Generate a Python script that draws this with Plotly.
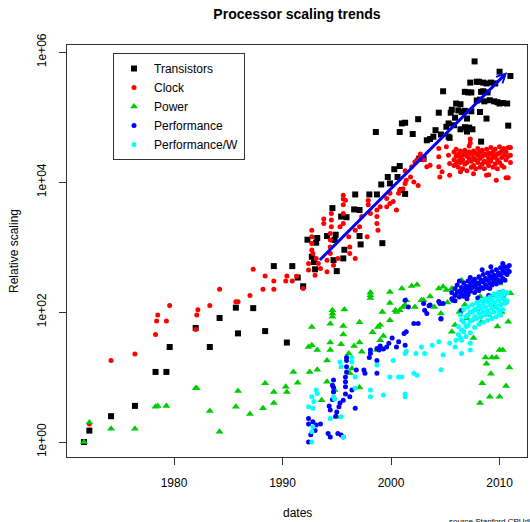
import plotly.graph_objects as go
import numpy as np

# ---- data (year, relative scaling) ----
transistors = [
    (1971.7, 1.0), (1972.2, 1.5), (1974.2, 2.5), (1976.4, 3.6), (1978.3, 12), (1979.3, 12), (1979.6, 29),
    (1982.0, 57), (1983.3, 29), (1984.2, 81), (1985.7, 117), (1985.9, 47), (1987.3, 115), (1988.4, 51),
    (1989.2, 510), (1990.4, 34),
    (1990.9, 510), (1991.4, 340), (1991.9, 250), (1992.3, 1300), (1992.7, 710), (1992.9, 590), (1993.0, 455),
    (1993.1, 1170), (1993.2, 1380), (1994.1, 1480), (1994.7, 630), (1994.8, 1290), (1994.9, 1550), (1995.0, 427),
    (1995.6, 670), (1995.7, 910), (1994.6, 3980), (1995.4, 2950), (1995.9, 2880), (1996.6, 3800), (1997.1, 3720),
    (1997.1, 1480), (1997.2, 1100), (1999.2, 1150),
    (1996.7, 6460), (1998.0, 6460), (1998.7, 6460), (1999.1, 9200), (1999.9, 9550), (1999.7, 1.2e4), (2000.6, 1.2e4),
    (2000.3, 1.58e4), (2000.8, 1.77e4), (2001.0, 7560), (2001.3, 6580), (2002.6, 2.3e4), (2003.0, 2.3e4),
    (2003.3, 4.4e4), (2003.6, 4.6e4), (2004.6, 5.4e4), (2005.4, 4.8e4), (2005.1, 7.1e4), (2006.4, 6.5e4),
    (2007.2, 6.9e4), (2007.5, 6.5e4), (2008.3, 4.2e4), (2010.8, 7.4e4), (1998.6, 5.9e4), (2000.8, 5.9e4),
    (2002.0, 5.5e4), (2001.0, 8.0e4), (2001.3, 8.2e4), (2002.5, 9.3e4), (2004.4, 1.17e5), (2005.5, 1.17e5),
    (2005.9, 9.8e4), (2007.0, 9.5e4), (2008.8, 9.5e4), (2006.5, 1.2e5), (2007.4, 1.23e5), (2008.2, 1.2e5),
    (2006.0, 1.62e5), (2006.4, 1.58e5), (2008.2, 1.86e5), (2009.1, 1.82e5), (2010.0, 1.62e5), (2010.7, 1.62e5),
    (2004.8, 2.5e5), (2006.8, 2.45e5), (2007.4, 2.4e5), (2008.5, 2.5e5), (2007.3, 3.4e5), (2007.9, 3.5e5),
    (2008.8, 3.3e5), (2007.7, 7.2e5), (2010.0, 5.0e5), (2011.0, 4.3e5),
    (2008.1, 3.5e5), (2008.5, 3.4e5), (2009.2, 3.4e5), (2009.6, 3.3e5), (2007.1, 2.4e5), (2008.3, 2.45e5),
    (2008.9, 2.4e5), (2007.9, 1.8e5), (2008.6, 1.75e5), (2009.5, 1.75e5), (2009.8, 1.7e5), (2010.3, 1.65e5),
    (2006.2, 1.27e5), (2006.8, 1.25e5), (2005.6, 1.3e5), (2005.3, 8.0e4), (2005.8, 7.5e4), (2006.8, 7.0e4),
    (2007.0, 6.0e4), (2003.9, 5.0e4), (2004.1, 6.3e4), (2005.3, 5.0e4),
]

clock = [
    (1972.2, 1.9), (1974.2, 18), (1976.4, 22.6), (1978.3, 45), (1978.4, 73), (1978.5, 90), (1979.3, 73),
    (1979.6, 126), (1982.0, 54), (1982.1, 90), (1982.2, 109), (1983.3, 126), (1984.2, 225), (1985.7, 144),
    (1985.9, 144), (1987.0, 180), (1987.3, 455), (1988.2, 225), (1988.4, 360), (1989.2, 300), (1989.2, 225),
    (1990.3, 300), (1990.4, 360),
    (1990.9, 300), (1991.3, 355), (1991.9, 230), (1992.4, 445), (1992.4, 560), (1993.0, 370), (1993.5, 470),
    (1992.7, 1820), (1992.7, 1440), (1992.7, 1140), (1992.7, 900), (1992.8, 800), (1993.1, 670), (1993.3, 560),
    (1994.1, 630), (1994.1, 417), (1994.4, 800), (1994.4, 1000), (1994.4, 1290), (1994.4, 1620), (1994.5, 2050),
    (1994.5, 2620), (1994.5, 3300), (1993.8, 2300), (1993.8, 2700), (1995.3, 2050), (1995.6, 2300),
    (1995.6, 3300), (1995.6, 4470), (1995.8, 5250), (1996.1, 1440), (1996.2, 1000), (1996.2, 800),
    (1996.7, 670), (1995.1, 670), (1994.7, 525), (1996.7, 1820), (1997.1, 2050), (1997.8, 1440),
    (1997.3, 2950), (1998.1, 3300), (1998.7, 3720), (1998.7, 2950), (1998.7, 2300), (1998.8, 1820),
    (1999.6, 4170), (1999.9, 4680), (2000.5, 3720), (1995.6, 5500), (1995.6, 6300), (1997.9, 4500),
    (1997.9, 5200), (2000.7, 6760),
    (1999.0, 4170), (1999.6, 5620), (1999.9, 6760), (2000.2, 5010), (2000.8, 7590), (2001.1, 7940),
    (2001.3, 9550), (2001.4, 1.07e4), (2001.8, 1.2e4), (2002.1, 1.0e4), (2002.5, 8900), (2001.3, 1.5e4),
    (2001.9, 1.73e4), (2002.2, 2.04e4), (2002.7, 2.45e4), (2003.3, 1.73e4), (2003.6, 1.82e4), (2003.0, 2.2e4),
    (2004.4, 3.3e4), (2004.4, 2.45e4), (2004.4, 1.73e4), (2004.7, 1.44e4), (2004.5, 1.2e4), (2005.1, 3.5e4),
    (2005.3, 2.6e4), (2005.4, 1.94e4), (2005.4, 1.28e4), (2002.4, 2.2e4), (2002.7, 2.7e4),
    (2006.4, 1.44e4), (2007.6, 1.35e4), (2008.8, 1.28e4), (2009.7, 1.07e4), (2010.6, 1.17e4),
    (2010.8, 1.17e4), (2009.0, 1.3e4),
    (2005.8, 2.9e4), (2005.8, 2.2e4), (2005.8, 1.8e4), (2006.0, 3.2e4), (2006.0, 2.5e4), (2006.0, 1.9e4),
    (2006.2, 2.7e4), (2006.2, 2.1e4), (2006.2, 1.7e4), (2006.4, 3.0e4), (2006.4, 2.4e4), (2006.4, 2.0e4),
    (2006.6, 2.6e4), (2006.6, 2.2e4), (2006.6, 1.6e4), (2006.8, 3.1e4), (2006.8, 2.8e4), (2006.8, 1.9e4),
    (2007.0, 2.5e4), (2007.0, 2.0e4), (2007.0, 1.5e4), (2007.2, 3.6e4), (2007.2, 2.9e4), (2007.2, 2.3e4),
    (2007.3, 4.6e4), (2007.3, 4.0e4), (2007.4, 2.7e4), (2007.4, 2.1e4), (2007.4, 1.7e4), (2007.6, 3.0e4),
    (2007.6, 2.4e4), (2007.6, 1.8e4), (2007.8, 2.8e4), (2007.8, 2.2e4), (2007.8, 1.6e4), (2008.0, 3.3e4),
    (2008.0, 2.6e4), (2008.0, 2.0e4), (2008.2, 2.9e4), (2008.2, 2.3e4), (2008.2, 1.7e4), (2008.4, 3.1e4),
    (2008.4, 2.5e4), (2008.4, 1.9e4), (2008.6, 2.7e4), (2008.6, 2.1e4), (2008.6, 1.6e4), (2008.8, 3.2e4),
    (2008.8, 2.6e4), (2008.8, 2.0e4), (2009.0, 2.8e4), (2009.0, 2.3e4), (2009.0, 1.8e4), (2009.2, 3.4e4),
    (2009.2, 2.7e4), (2009.2, 2.1e4), (2009.4, 2.9e4), (2009.4, 2.4e4), (2009.4, 1.7e4), (2009.6, 3.2e4),
    (2009.6, 2.5e4), (2009.6, 1.9e4), (2009.8, 2.7e4), (2009.8, 2.2e4), (2009.8, 1.6e4), (2010.0, 3.5e4),
    (2010.0, 2.8e4), (2010.0, 2.0e4), (2010.2, 3.0e4), (2010.2, 2.4e4), (2010.2, 1.8e4), (2010.4, 3.3e4),
    (2010.4, 2.6e4), (2010.4, 1.7e4), (2010.6, 2.9e4), (2010.6, 2.2e4), (2010.8, 3.4e4), (2010.8, 2.5e4),
    (2011.0, 3.4e4), (2011.0, 2.6e4), (2011.0, 2.0e4),
]

power = [
    (1971.7, 1.0), (1972.2, 2.0), (1974.2, 1.6), (1976.4, 1.6), (1978.3, 3.5), (1978.5, 3.6), (1979.3, 3.6),
    (1982.0, 6.7), (1982.1, 6.7), (1983.3, 3.0), (1984.2, 1.44), (1985.7, 3.5), (1985.9, 6.1), (1987.0, 2.7),
    (1988.2, 3.3), (1988.4, 8.0), (1989.2, 4.0), (1989.2, 5.9), (1990.3, 7.1), (1990.4, 5.9),
    (1991.0, 12), (1991.4, 8.2), (1992.4, 29), (1992.7, 31), (1993.2, 26), (1992.5, 12), (1993.2, 13),
    (1992.7, 59), (1994.4, 66), (1994.6, 107), (1994.6, 95), (1994.6, 85), (1995.7, 110), (1995.6, 61),
    (1995.6, 45), (1997.1, 70), (1994.4, 34), (1995.4, 32), (1994.1, 18), (1994.4, 26), (1994.1, 8.5),
    (1993.6, 4.4), (1994.8, 6.3), (1996.1, 23), (1996.6, 30), (1997.1, 34), (1997.3, 24.5), (1996.2, 11.4),
    (1997.1, 6.9), (1998.3, 49), (1998.8, 59), (1999.2, 100), (1999.9, 138), (1999.0, 37), (1999.3, 43),
    (2000.5, 100), (2000.8, 107), (2001.3, 129), (2002.2, 120), (2002.8, 152), (1998.7, 26), (1996.4, 13.6),
    (1995.0, 2.45), (1999.0, 63), (1999.9, 75), (2000.4, 107), (2001.1, 120), (2003.0, 152),
    (1998.1, 182), (1998.1, 200), (1998.1, 165), (1999.9, 204), (2001.0, 230), (2001.9, 251), (2002.4, 263),
    (2001.4, 152), (2003.6, 174), (2004.4, 230), (2004.8, 245), (2005.1, 219), (2006.5, 310), (2007.3, 310),
    (2008.2, 330), (2009.4, 275), (2010.0, 275), (2011.0, 195), (2005.6, 230), (2008.2, 174), (2008.8, 152),
    (2009.4, 180), (2010.3, 174),
    (2004.0, 120), (2004.6, 95), (2005.2, 140), (2005.6, 50), (2005.9, 63), (2006.3, 100), (2006.8, 130),
    (2007.0, 80), (2007.6, 40), (2007.9, 110), (2008.3, 70), (2008.6, 150), (2009.0, 90), (2009.5, 120),
    (2009.8, 60), (2010.2, 100), (2010.5, 140), (2010.8, 71), (2010.0, 26), (2010.3, 26),
    (2008.7, 20), (2008.8, 16), (2009.3, 20), (2009.7, 20), (2009.2, 11.2), (2010.9, 14), (2008.4, 8),
    (2010.6, 7.3), (2009.1, 5), (2010.0, 5), (2008.2, 4.0),
]

performance = [
    (1992.4, 2.3), (1992.4, 1.9), (1992.4, 1.0), (1992.8, 2.05), (1993.1, 1.83), (1993.5, 1.9), (1994.2, 1.36),
    (1994.4, 1.2), (1995.1, 1.36), (1995.4, 1.28), (1995.6, 1.2), (1994.3, 3.6), (1994.4, 3.1), (1994.7, 6.9),
    (1994.7, 5.9), (1994.7, 9.0), (1995.2, 3.5), (1995.3, 4.0), (1995.6, 4.4), (1995.8, 7.1), (1995.8, 10),
    (1995.9, 14.4), (1995.9, 18), (1995.9, 20), (1996.2, 5), (1996.4, 6.3), (1996.7, 3.3), (1997.5, 12.8),
    (1997.6, 11.4), (1998.1, 23), (1998.1, 26), (1998.7, 27.5), (1998.9, 26), (1998.7, 11.4), (1999.6, 29),
    (1999.8, 33), (2000.5, 29), (2000.7, 35), (2000.1, 40), (2001.3, 31), (2001.2, 47), (2001.4, 50),
    (2002.1, 67), (2002.5, 67), (2003.1, 107), (2003.3, 95), (2004.6, 78), (2003.6, 129), (2004.5, 135),
    (2004.8, 135), (2005.7, 152), (2006.5, 107),
    (1995.8, 8.5), (1995.9, 12), (1995.8, 5.5), (1994.6, 4.5), (1994.6, 7.5), (1994.9, 2.5), (1995.0, 2.9),
    (1993.0, 1.5), (1992.6, 1.3), (1996.8, 12.8), (1998.0, 20), (1998.7, 18), (1999.0, 30), (1999.3, 27),
    (2001.3, 152), (2001.6, 120), (2003.0, 135), (2003.5, 125), (2004.4, 145), (2004.6, 80),
    (2005.6, 200), (2005.6, 160), (2005.9, 230), (2005.9, 180), (2005.9, 150), (2006.1, 260), (2006.1, 200),
    (2006.3, 210), (2006.3, 170), (2006.3, 300), (2006.5, 240), (2006.5, 190), (2006.7, 280), (2006.7, 220),
    (2006.7, 175), (2006.9, 250), (2006.9, 200), (2007.1, 300), (2007.1, 230), (2007.1, 185), (2007.0, 160),
    (2007.3, 260), (2007.3, 210), (2007.3, 340), (2007.5, 290), (2007.5, 240), (2007.7, 320), (2007.7, 250),
    (2007.7, 200), (2007.9, 280), (2007.9, 230), (2008.0, 165), (2008.1, 350), (2008.1, 270), (2008.1, 215),
    (2008.3, 310), (2008.3, 240), (2008.4, 450), (2008.5, 380), (2008.5, 290), (2008.5, 230), (2008.7, 330),
    (2008.7, 260), (2008.9, 400), (2008.9, 310), (2008.9, 240), (2009.0, 180), (2009.1, 360), (2009.1, 280),
    (2009.1, 230), (2009.2, 500), (2009.3, 420), (2009.3, 330), (2009.3, 260), (2009.5, 370), (2009.5, 300),
    (2009.7, 450), (2009.7, 350), (2009.7, 270), (2009.9, 400), (2009.9, 310), (2010.0, 200), (2010.1, 480),
    (2010.1, 370), (2010.1, 290), (2010.3, 560), (2010.3, 430), (2010.3, 330), (2010.5, 500), (2010.5, 400),
    (2010.5, 310), (2010.7, 460), (2010.7, 380), (2010.9, 520), (2010.9, 420),
]

performance_per_watt = [
    (1992.4, 3.5), (1992.8, 3.3), (1992.7, 5), (1992.7, 1.44), (1992.7, 1.0), (1992.9, 4.2), (1993.1, 6.3),
    (1993.2, 5.6), (1992.8, 1.7), (1994.4, 2.3), (1994.7, 5), (1994.8, 4.6), (1995.4, 2.45), (1995.6, 1.2),
    (1995.3, 17), (1995.4, 14.4), (1996.4, 20), (1996.4, 17), (1996.7, 10), (1996.7, 6.7), (1998.1, 6.3),
    (1998.1, 5), (1999.3, 5.3), (1998.7, 15.3), (1999.9, 10), (2000.2, 18), (2000.7, 10), (2001.0, 10),
    (2001.3, 5), (2001.3, 5.5), (2001.3, 23), (2001.4, 25), (2002.1, 11.4), (2002.4, 10.7), (2002.3, 23),
    (2002.8, 29), (2003.1, 23), (2003.8, 31), (2004.4, 35), (2004.6, 13), (2004.8, 22), (2005.4, 33),
    (2005.9, 29), (2006.0, 37), (2006.5, 75), (2006.5, 53), (2006.5, 37), (2006.5, 23), (2007.3, 33),
    (2007.3, 26), (2010.0, 95),
    (2006.2, 60), (2006.2, 45), (2006.4, 90), (2006.4, 40), (2006.7, 110), (2006.7, 70), (2006.7, 50),
    (2006.9, 85), (2006.9, 60), (2006.9, 42), (2007.1, 120), (2007.1, 90), (2007.1, 62), (2007.3, 100),
    (2007.3, 72), (2007.3, 48), (2007.5, 130), (2007.5, 100), (2007.5, 75), (2007.7, 110), (2007.7, 85),
    (2007.7, 58), (2007.9, 140), (2007.9, 110), (2007.9, 80), (2008.1, 125), (2008.1, 95), (2008.1, 65),
    (2008.3, 150), (2008.3, 115), (2008.3, 85), (2008.5, 135), (2008.5, 100), (2008.5, 70), (2008.7, 160),
    (2008.7, 120), (2008.7, 90), (2008.9, 145), (2008.9, 105), (2008.9, 75), (2009.1, 170), (2009.1, 130),
    (2009.1, 95), (2009.3, 155), (2009.3, 115), (2009.3, 80), (2009.5, 190), (2009.5, 140), (2009.5, 100),
    (2009.7, 170), (2009.7, 125), (2009.7, 85), (2009.9, 200), (2009.9, 150), (2009.9, 110), (2010.1, 180),
    (2010.1, 130), (2010.1, 90), (2010.3, 210), (2010.3, 160), (2010.3, 110), (2010.5, 190), (2010.5, 135),
    (2010.7, 200), (2010.7, 150),
]

series_names = ["Transistors", "Clock", "Power", "Performance", "Performance/W"]
series_data = [transistors, clock, power, performance, performance_per_watt]
series_colors = ["#000000", "#FF0000", "#00CD00", "#0000FF", "#00FFFF"]
series_symbols = ["square", "circle", "triangle-up", "circle", "circle"]
series_sizes = [6, 5, 7, 5, 5]

trend_start = (1993.3, 600)      # blue trend arrow, start (year, value)
trend_end = (2010.7, 4.9e5)      # blue trend arrow, end (year, value)

x_ticks = [1980, 1990, 2000, 2010]
y_ticks = [1, 100, 1e4, 1e6]
y_tick_labels = ["1e+00", "1e+02", "1e+04", "1e+06"]

FONT = "Liberation Sans, Arial, Helvetica, sans-serif"

fig = go.Figure()
for name, pts, col, sym, sz in zip(series_names, series_data, series_colors, series_symbols, series_sizes):
    xs = [p[0] for p in pts]
    ys = [p[1] for p in pts]
    fig.add_trace(go.Scatter(
        x=xs, y=ys, mode="markers", name=name,
        marker=dict(color=col, symbol=sym, size=sz, line=dict(width=0)),
    ))

fig.add_annotation(
    x=trend_end[0], y=np.log10(trend_end[1]), ax=trend_start[0], ay=np.log10(trend_start[1]),
    xref="x", yref="y", axref="x", ayref="y", text="", showarrow=True,
    arrowhead=5, arrowsize=0.6, arrowwidth=3, arrowcolor="#0000FF",
)

fig.add_annotation(text="dates", xref="paper", yref="paper", x=0.5, y=-(513 - 457) / 412,
                   showarrow=False, font=dict(family=FONT, size=12, color="#000"), yanchor="middle")
fig.add_annotation(text="Relative scaling", xref="paper", yref="paper", x=-(67 - 14) / 460, y=0.5,
                   showarrow=False, textangle=-90, font=dict(family=FONT, size=12, color="#000"),
                   xanchor="center", yanchor="middle")
fig.add_annotation(text="source Stanford CPUdb", xref="paper", yref="paper", x=(447 - 67) / 460,
                   y=-(515 - 457) / 412, showarrow=False, xanchor="left", yanchor="top",
                   font=dict(family=FONT, size=8, color="#000"))

axis_common = dict(showgrid=False, zeroline=False, showline=True, mirror=True, linecolor="#333",
                   linewidth=1, ticks="outside", ticklen=7, tickcolor="#333", tickwidth=1,
                   tickfont=dict(family=FONT, size=12, color="#000"))

fig.update_layout(
    width=530, height=522,
    margin=dict(l=67, r=3, t=45, b=65, autoexpand=False),
    paper_bgcolor="white", plot_bgcolor="white",
    title=dict(text="<b>Processor scaling trends</b>", x=0.5, xref="paper", y=1 - 14 / 522,
               yanchor="middle", font=dict(family=FONT, size=14, color="#000")),
    xaxis=dict(range=[1970.14, 2012.53], tickvals=x_ticks, ticklabelstandoff=8, **axis_common),
    yaxis=dict(type="log", range=[-0.23, 6.11], tickvals=y_ticks, ticktext=y_tick_labels,
               tickangle=-90, ticklabelstandoff=8, **axis_common),
    legend=dict(x=(113 - 67) / 460, y=(457 - 53) / 412, xanchor="left", yanchor="top",
                bgcolor="white", bordercolor="#333", borderwidth=1,
                font=dict(family=FONT, size=12, color="#000")),
    showlegend=True,
)

fig.write_html("out.html", config={"displayModeBar": False},
               post_script="document.body.style.margin='0';document.body.style.overflow='hidden';")
